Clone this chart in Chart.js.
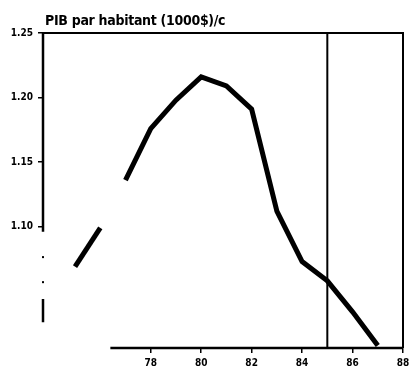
<!DOCTYPE html>
<html>
<head>
<meta charset="utf-8">
<script src="https://cdn.jsdelivr.net/npm/chart.js@4.4.1/dist/chart.umd.min.js"></script>
<style>
  html, body { margin: 0; padding: 0; background: #fff; }
  #wrap { position: relative; width: 414px; height: 371px; }
  #titre {
    position: absolute; left: 45px; top: 12px;
    font: bold 14px "DejaVu Sans Condensed", sans-serif;
    color: #000; white-space: nowrap; letter-spacing: -0.3px;
  }
</style>
</head>
<body>
<div id="wrap">
  <canvas id="pib" width="414" height="371"></canvas>
  <div id="titre">PIB par habitant (1000$)/c</div>
</div>
<script>
// Données (PIB par habitant, milliers de $)
const annees = [75, 76, 77, 78, 79, 80, 81, 82, 83, 84, 85, 86, 87];
const pib = [1.069, 1.099, 1.136, 1.176, 1.198, 1.216, 1.209, 1.191, 1.112, 1.073, 1.058, 1.034, 1.008];
const ticksX = [78, 80, 82, 84, 86, 88];
const ticksY = [1.10, 1.15, 1.20, 1.25];
const anneeRepere = 85;   // trait vertical
const segmentEfface = 1;  // segment 76 -> 77 effacé sur le scan

const xMin = 73.73, xMax = 88;
const yMin = 1.006, yMax = 1.25;

const police = { family: "'DejaVu Sans Condensed', sans-serif", size: 10, weight: 'bold' };

// Cadre du scan : axes partiellement effacés
const cadre = {
  id: 'cadre',
  afterDatasetsDraw(chart) {
    const { ctx, chartArea: a, scales: { x, y } } = chart;
    ctx.save();
    ctx.strokeStyle = '#000';
    ctx.fillStyle = '#000';

    // haut et droite
    ctx.lineWidth = 2;
    ctx.beginPath();
    ctx.moveTo(a.left, a.top);
    ctx.lineTo(a.right, a.top);
    ctx.lineTo(a.right, a.bottom);
    ctx.stroke();

    // bas (à partir de 76.4 seulement)
    ctx.lineWidth = 2.5;
    ctx.beginPath();
    ctx.moveTo(x.getPixelForValue(76.4), a.bottom);
    ctx.lineTo(a.right, a.bottom);
    ctx.stroke();

    // gauche : plein, deux points, petit trait
    ctx.beginPath();
    ctx.moveTo(a.left, a.top);
    ctx.lineTo(a.left, y.getPixelForValue(1.096));
    ctx.moveTo(a.left, y.getPixelForValue(1.044));
    ctx.lineTo(a.left, y.getPixelForValue(1.026));
    ctx.stroke();
    [1.0764, 1.057].forEach(v => {
      ctx.fillRect(a.left - 1, y.getPixelForValue(v) - 1, 2, 2);
    });
    ctx.restore();
  }
};

new Chart(document.getElementById('pib'), {
  type: 'line',
  data: {
    datasets: [
      {
        data: annees.map((a, i) => ({ x: a, y: pib[i] })),
        borderColor: '#000',
        borderWidth: 5,
        pointRadius: 0,
        tension: 0,
        segment: {
          borderColor: c => c.p0DataIndex === segmentEfface ? 'rgba(0,0,0,0)' : '#000'
        }
      },
      {
        data: [{ x: anneeRepere, y: yMin }, { x: anneeRepere, y: yMax }],
        borderColor: '#000',
        borderWidth: 2,
        pointRadius: 0
      }
    ]
  },
  options: {
    responsive: false,
    animation: false,
    layout: { padding: { top: 33, right: 11, left: 0, bottom: 0 } },
    plugins: {
      legend: { display: false },
      tooltip: { enabled: false }
    },
    scales: {
      x: {
        type: 'linear',
        min: xMin, max: xMax,
        afterBuildTicks: s => { s.ticks = ticksX.map(v => ({ value: v })); },
        afterFit: s => { s.height = 23; },
        border: { display: false },
        grid: { drawOnChartArea: false, drawTicks: true, tickLength: 5, color: '#000', lineWidth: 1.5 },
        ticks: { color: '#000', font: police, padding: 4, maxRotation: 0, callback: v => String(v) }
      },
      y: {
        min: yMin, max: yMax,
        afterBuildTicks: s => { s.ticks = ticksY.map(v => ({ value: v })); },
        afterFit: s => { s.width = 43; },
        border: { display: false },
        grid: { drawOnChartArea: false, drawTicks: true, tickLength: 5, color: '#000', lineWidth: 1.5 },
        ticks: { color: '#000', font: police, padding: 5, callback: v => v.toFixed(2) }
      }
    }
  },
  plugins: [cadre]
});
</script>
</body>
</html>
